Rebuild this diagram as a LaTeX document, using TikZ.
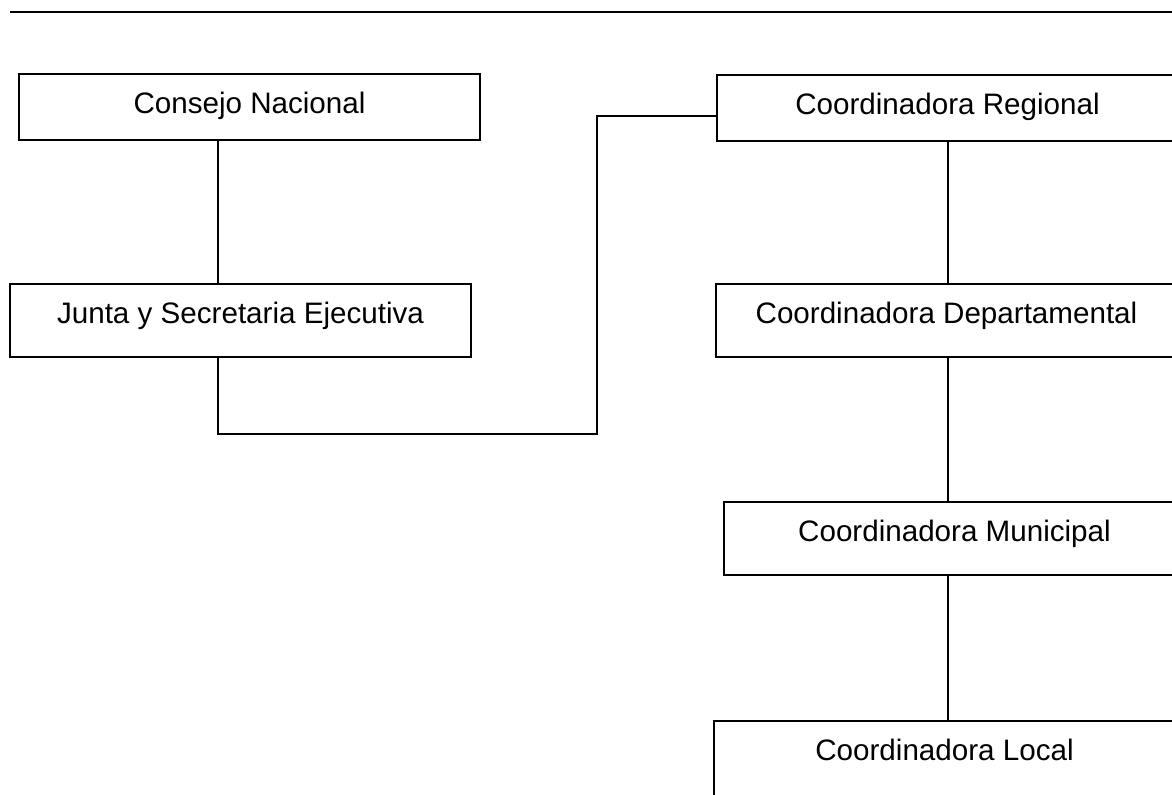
\documentclass[tikz,border=0pt]{standalone}
\usepackage{fontspec}
\setmainfont{Liberation Sans}
\usepackage{tikz}

\tikzset{unit/.style={draw, line width=1pt, inner sep=0pt, anchor=north west,
    minimum width=230.5pt, text height=19.5pt, font=\fontsize{14.8}{17}\selectfont},
  short/.style={text depth=13.5pt},
  tall/.style={text depth=17pt}}

\begin{document}
\begin{tikzpicture}[x=0.5pt,y=-0.5pt]
      \useasboundingbox (0,0) rectangle (1172,794);
      \clip (0,0) rectangle (1172,794);
      \draw[line width=1pt] (10,12) to (1172,12);
      \node (cn) at (18,73)  [unit, short] {Consejo Nacional};
      \node (js) at (9,283)  [unit, tall] {Junta y Secretaria Ejecutiva};
      \node (cr) at (716,74)  [unit, short] {Coordinadora Regional};
      \foreach \n/\x/\y/\t in {cd/715/283/Departamental, cm/723/501/Municipal} {
        \node (\n) at (\x,\y)  [unit, tall] {Coordinadora \t};
      }
      % runs past the lower edge of the page
      \node (cl) at (713,720)  [unit, text depth=30pt] {Coordinadora Local};
      \coordinate (ls) at (218,0);
      \coordinate (rs) at (948,0);
      \coordinate (turn) at (597,434);
      \coordinate (join) at (597,116);
      \draw[line width=1pt] (cn.south -| ls) to (js.north -| ls);
      \draw[line width=1pt] (js.south -| ls) |- (turn) to (join) to (cr.west |- join);
      \foreach \a/\b in {cr/cd, cd/cm, cm/cl} {
        \draw[line width=1pt] (\a.south -| rs) to (\b.north -| rs);
      }
\end{tikzpicture}
\end{document}
